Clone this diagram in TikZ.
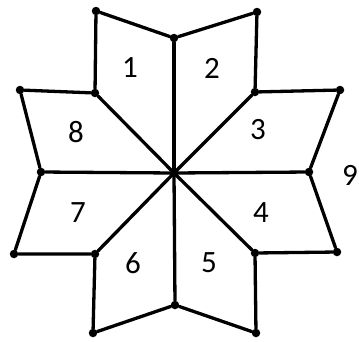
\documentclass[tikz,border=0pt]{standalone}
\usepackage{fontspec}
\setmainfont{Carlito}
\usetikzlibrary{positioning}

\begin{document}
\begin{tikzpicture}[x=1pt, y=-1pt,
    edge/.style={line width=3.3pt, line join=round, line cap=round},
    dot/.style={circle, fill, inner sep=0pt, minimum size=8.5pt},
    num/.style={font=\fontsize{31}{31}\selectfont}]
        \useasboundingbox (0,0) rectangle (359,341);
        % centre and the points on the axes
        \coordinate (c) at (174,173);
        \node[dot] (n) at (174,38) {};
        \node[dot] (e) at (309,172) {};
        \node[dot] (s) at (175,305) {};
        \node[dot] (w) at (41,172) {};
        % inner corners
        \node[dot] (nw) at (95,93) {};
        \node[dot] (ne) at (255,92) {};
        \node[dot] (se) at (255,253) {};
        \node[dot] (sw) at (95,254) {};
        % outer tips
        \node[dot] (t1) at (96,11) {};
        \node[dot] (t2) at (257,12) {};
        \node[dot] (t3) at (340,90) {};
        \node[dot] (t4) at (337,252) {};
        \node[dot] (t5) at (256,333) {};
        \node[dot] (t6) at (93,333) {};
        \node[dot] (t7) at (14,254) {};
        \node[dot] (t8) at (20,90) {};
        % spokes
        \foreach \p in {n,ne,e,se,s,sw,w,nw}
          \draw[edge] (c) -- (\p);
        % outline
        \draw[edge] (n) -- (t1) -- (nw) -- (t8) -- (w) -- (t7) -- (sw) -- (t6) -- (s);
        \draw[edge] (n) -- (t2) -- (ne) -- (t3) -- (e) -- (t4) -- (se) -- (t5) -- (s);
        % labels
        \node[num] (l1) at (130,68) {1};
        \node[num] (l2) at (212,68) {2};
        \node[num] (l3) at (258,130) {3};
        \node[num] (l4) at (261,213) {4};
        \node[num] (l5) at (209,263) {5};
        \node[num] (l6) at (133,263) {6};
        \node[num] (l7) at (78,213) {7};
        \node[num] (l8) at (76,132) {8};
        \node[num] (l9) at (350,175) {9};
      \end{tikzpicture}
\end{document}
